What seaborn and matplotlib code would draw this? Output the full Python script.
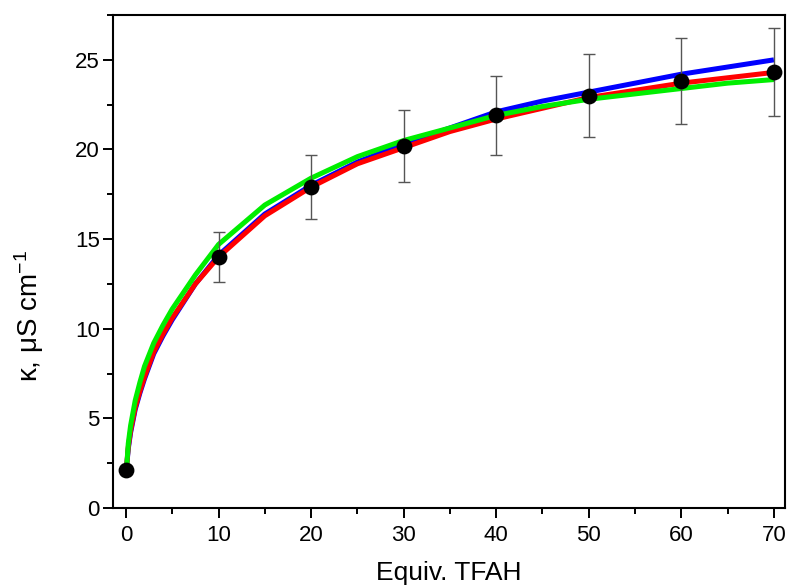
import matplotlib
matplotlib.use("Agg")
import matplotlib.pyplot as plt
import seaborn as sns
from matplotlib.ticker import MultipleLocator

# Set Seaborn style
sns.set_style("ticks", {"text.color": "black", "axes.labelcolor": "black",
                        "xtick.color": "black", "ytick.color": "black",
                        "axes.edgecolor": "black"})
plt.rcParams['font.family'] = ['Liberation Sans', 'DejaVu Sans']
plt.rcParams['mathtext.fontset'] = 'custom'
plt.rcParams['mathtext.rm'] = 'Liberation Sans'
plt.rcParams['mathtext.it'] = 'Liberation Sans:italic'

# Measured points (with error bars)
equiv = [0, 10, 20, 30, 40, 50, 60, 70]
kappa = [2.1, 14.0, 17.9, 20.2, 21.9, 23.0, 23.8, 24.3]
kappa_err = [0.1, 1.4, 1.8, 2.0, 2.2, 2.3, 2.4, 2.45]

# Fitted curves
fit_x = [0, 0.25, 0.5, 1, 1.5, 2, 3, 4, 5, 7.5, 10, 15, 20, 25, 30, 35, 40, 45,
         50, 55, 60, 65, 70]
fit_blue = [1.9, 3.3, 4.2, 5.5, 6.4, 7.2, 8.6, 9.6, 10.5, 12.5, 14.1, 16.4, 18.0,
            19.3, 20.3, 21.2, 22.1, 22.7, 23.2, 23.7, 24.2, 24.6, 25.0]
fit_red = [1.9, 3.4, 4.3, 5.6, 6.5, 7.3, 8.7, 9.7, 10.6, 12.5, 14.0, 16.3, 17.9,
           19.2, 20.1, 21.0, 21.7, 22.3, 22.9, 23.3, 23.7, 24.0, 24.3]
fit_green = [1.7, 3.6, 4.6, 6.0, 7.0, 7.9, 9.2, 10.2, 11.1, 13.0, 14.7, 16.9, 18.4,
             19.6, 20.5, 21.2, 21.9, 22.4, 22.8, 23.1, 23.4, 23.7, 23.9]

fig = plt.figure(figsize=(7.88, 5.87), dpi=100)
ax = fig.add_axes([0.1434, 0.1346, 0.8528, 0.8398])

for ys, col in [(fit_blue, "#0000ff"), (fit_red, "#ff0000"), (fit_green, "#00ee00")]:
    sns.lineplot(x=fit_x, y=ys, color=col, linewidth=3.6, ax=ax,
                 solid_capstyle="butt", solid_joinstyle="round", zorder=2)

ax.errorbar(equiv, kappa, yerr=kappa_err, fmt="none", ecolor="#555555",
            elinewidth=1.0, capsize=4.5, capthick=1.0, zorder=3)
sns.scatterplot(x=equiv, y=kappa, color="black", s=130, edgecolor="black",
                linewidth=0, ax=ax, zorder=4)

ax.set_xlim(-1.4, 71.2)
ax.set_ylim(0, 27.5)
ax.xaxis.set_major_locator(MultipleLocator(10))
ax.xaxis.set_minor_locator(MultipleLocator(5))
ax.yaxis.set_major_locator(MultipleLocator(5))
ax.yaxis.set_minor_locator(MultipleLocator(2.5))

ax.tick_params(which="major", direction="out", length=7, width=1.4,
               labelsize=16, pad=5, top=False, right=False, colors="black")
ax.tick_params(axis="y", which="major", pad=2.5)
ax.tick_params(which="minor", direction="out", length=4, width=1.4,
               top=False, right=False, colors="black")
for sp in ax.spines.values():
    sp.set_linewidth(1.5)
    sp.set_color("black")

ax.set_xlabel("Equiv. TFAH", fontsize=19, labelpad=11, color="black")
ax.set_ylabel(r"κ, μS cm$^{-1}$", fontsize=20, color="black")
ax.yaxis.set_label_coords(-0.1, 0.39)

fig.savefig("out.png", dpi=100)
